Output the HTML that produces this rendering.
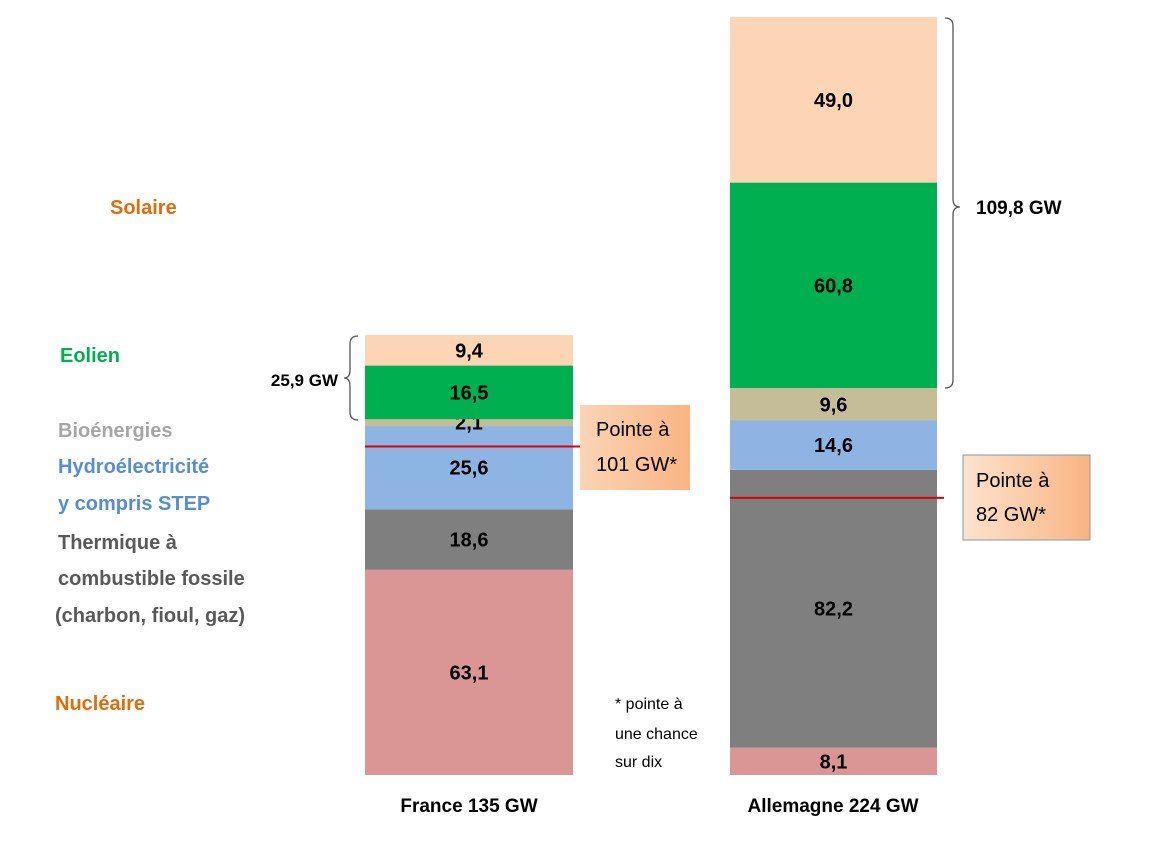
<!DOCTYPE html>
<html><head><meta charset="utf-8"><style>
body{margin:0;background:#fff;}
svg text{font-family:"Liberation Sans",sans-serif;}
</style></head><body>
<svg width="1153" height="856" viewBox="0 0 1153 856">
<defs>
<linearGradient id="gf" x1="0" y1="0" x2="1" y2="0"><stop offset="0" stop-color="#fbd4b4"/><stop offset="1" stop-color="#f9b483"/></linearGradient>
<linearGradient id="gg" x1="0" y1="0" x2="1" y2="0"><stop offset="0" stop-color="#fde3cc"/><stop offset="1" stop-color="#f9b483"/></linearGradient>
</defs>
<g id="bars"></g>
<g font-weight="bold" font-size="20">
<text x="110" y="214" fill="#e36c09">Solaire</text>
<text x="60" y="362" fill="#00b050">Eolien</text>
<text x="58" y="437" fill="#a6a6a6">Bioénergies</text>
<text x="58" y="473" fill="#558ed5">Hydroélectricité</text>
<text x="58" y="510" fill="#558ed5">y compris STEP</text>
<text x="58" y="549" fill="#595959">Thermique à</text>
<text x="58" y="585" fill="#595959">combustible fossile</text>
<text x="55" y="622" fill="#595959">(charbon, fioul, gaz)</text>
<text x="55" y="710" fill="#e36c09">Nucléaire</text>
</g>
<g>
<path d="M358 336 Q350 336 350 344 L350 370 Q350 378 344 378 Q350 378 350 386 L350 412 Q350 420 358 420" fill="none" stroke="#555" stroke-width="1.3"/>
<text x="338" y="386" font-size="17" font-weight="bold" text-anchor="end">25,9 GW</text>
</g>
<g>
<path d="M945 18 Q953 18 953 26 L953 199 Q953 207 960 207 Q953 207 953 215 L953 380 Q953 388 945 388" fill="none" stroke="#555" stroke-width="1.3"/>
<text x="976" y="214" font-size="19" font-weight="bold">109,8 GW</text>
</g>
<g>
<rect x="580" y="405" width="110" height="85" fill="url(#gf)"/>
<text x="596" y="436" font-size="20">Pointe à</text>
<text x="596" y="471" font-size="20">101 GW*</text>
</g>
<g>
<rect x="963" y="455" width="127" height="85" fill="url(#gg)" stroke="#8497b0" stroke-width="1"/>
<text x="976" y="487" font-size="20">Pointe à</text>
<text x="976" y="521" font-size="20">82 GW*</text>
</g>
<g font-size="16">
<text x="615" y="709">* pointe à</text>
<text x="615" y="739">une chance</text>
<text x="615" y="767">sur dix</text>
</g>
<text x="469" y="812" font-size="19" font-weight="bold" text-anchor="middle">France 135 GW</text>
<text x="833" y="812" font-size="19" font-weight="bold" text-anchor="middle">Allemagne 224 GW</text>
</svg>
<script>
const categories=["Nucléaire","Thermique fossile","Hydroélectricité","Bioénergies","Eolien","Solaire"];
const franceValues=[63.1,18.6,25.6,2.1,16.5,9.4];
const germanyValues=[8.1,82.2,14.6,9.6,60.8,49.0];
const francePeak=101;
const germanyPeak=82;
const colors=["#d99694","#7f7f7f","#8eb4e3","#c4bd97","#00b050","#fcd5b5"];
const NS="http://www.w3.org/2000/svg";
const g=document.getElementById('bars');
const baseY=775;
function drawBar(vals,x,w,top,peak,name){
  const total=vals.reduce((a,b)=>a+b,0);
  const sc=(baseY-top)/total;
  const y=v=>baseY-v*sc;
  let acc=0;
  vals.forEach((v,i)=>{
    const r=document.createElementNS(NS,'rect');
    r.setAttribute('x',x);r.setAttribute('width',w);
    r.setAttribute('y',y(acc+v));r.setAttribute('height',v*sc);
    r.setAttribute('fill',colors[i]);
    
    
    g.appendChild(r);
    const t=document.createElementNS(NS,'text');
    t.setAttribute('x',x+w/2);t.setAttribute('y',y(acc+v/2)+7);
    t.setAttribute('text-anchor','middle');t.setAttribute('font-size','20');t.setAttribute('font-weight','bold');
    t.textContent=v.toFixed(1).replace('.',',');
    
    
    g.appendChild(t);
    acc+=v;
  });
  const l=document.createElementNS(NS,'line');
  l.setAttribute('x1',x);l.setAttribute('x2',x+w+7);
  l.setAttribute('y1',y(peak));l.setAttribute('y2',y(peak));
  l.setAttribute('stroke','#e00000');l.setAttribute('stroke-width','2');
  
  
  g.appendChild(l);
}
drawBar(franceValues,365,208,335,francePeak,'france');
drawBar(germanyValues,730,207,17,germanyPeak,'germany');
</script>
</body></html>
